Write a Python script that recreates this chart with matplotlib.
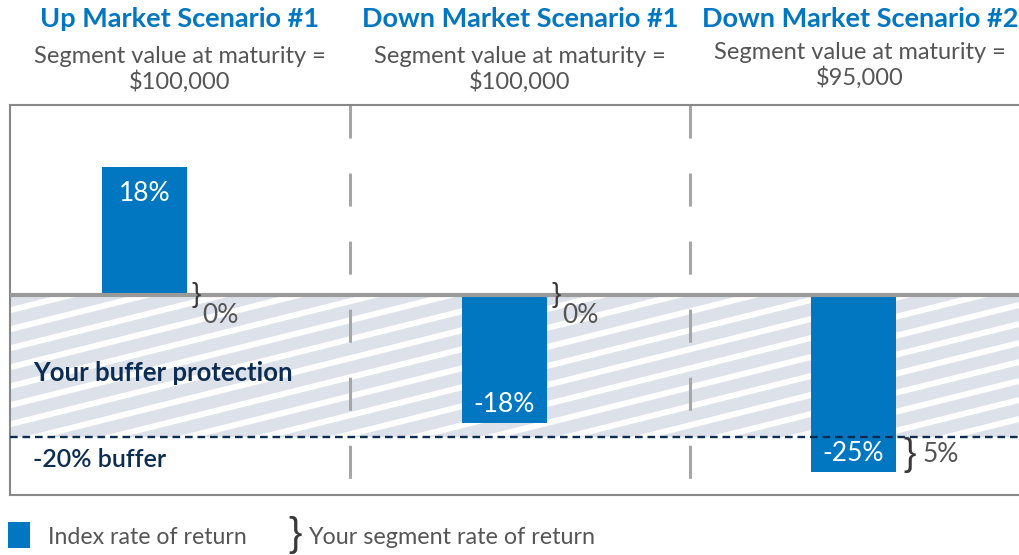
import matplotlib
matplotlib.use("Agg")
import matplotlib.pyplot as plt
import numpy as np
from matplotlib.patches import Rectangle
from matplotlib.transforms import blended_transform_factory

# ---- data -------------------------------------------------------------
scenarios = ["Up Market Scenario #1", "Down Market Scenario #1", "Down Market Scenario #2"]
maturity_values = ["100,000", "100,000", "95,000"]
index_returns = [18, -18, -25]
segment_returns = [0, 0, 5]
buffer_level = -20

# ---- style / layout ---------------------------------------------------
BLUE = "#0077c0"
NAVY = "#0c2d52"
GREY_TXT = "#555555"
HATCH_BG = "#dde1ea"
bar_x = [0.396, 1.454, 2.481]     # bar centres, in column units
bar_w = 0.25
plt.rcParams["font.family"] = ["Lato", "DejaVu Sans"]
plt.rcParams["lines.scale_dashes"] = False

W, H = 1019, 555
fig = plt.figure(figsize=(W / 100, H / 100), dpi=100)
ax = fig.add_axes([10 / W, 60 / H, 1 - 10 / W, 390 / H])
ax.set_xlim(0, 1009 / 340)
ax.set_ylim(-28.17, 26.76)
ax.set_xticks([])
ax.set_yticks([])
for s in ("top", "bottom", "left"):
    ax.spines[s].set_color("#888888")
    ax.spines[s].set_linewidth(1.5)
ax.spines["right"].set_visible(False)

# buffer zone with shallow white stripes
zone = Rectangle((0, buffer_level), 10, -buffer_level, facecolor=HATCH_BG,
                 edgecolor="none", zorder=1)
ax.add_patch(zone)
slope = 0.25 * 1009 / 390
for y0 in np.arange(-slope, 1.0, 19 / 390):
    ln, = ax.plot([0, 1], [y0, y0 + slope], transform=ax.transAxes,
                  color="white", lw=4.3, zorder=1.5, solid_capstyle="butt")
    ln.set_clip_path(zone)

# column dividers
for xd in (1, 2):
    ax.plot([xd, xd], [26.76, -28.17], color="#a6a6a6", lw=2.2,
            linestyle=(0, (23.8, 25.2)), zorder=2)

# index bars
ax.bar(bar_x, index_returns, bar_w, color=BLUE, zorder=3)

# zero line and buffer line
ax.axhline(0, color="#9a9a9a", lw=3, zorder=4)
ax.axhline(buffer_level, color=NAVY, lw=1.7, linestyle=(0, (5.5, 3.5)), zorder=4)

# bar labels
for x, v in zip(bar_x, index_returns):
    if v > 0:
        ax.annotate(f"{v}%", (x, v), xytext=(0, -19), textcoords="offset points",
                    ha="center", va="center", color="white", fontsize=19, zorder=5)
    else:
        ax.annotate(f"{v}%", (x, v), xytext=(0, 13.5), textcoords="offset points",
                    ha="center", va="center", color="white", fontsize=19, zorder=5)

# segment-return braces
for x, v, seg in zip(bar_x, index_returns, segment_returns):
    xr = x + bar_w / 2
    if seg == 0:
        ax.annotate("}", (xr, 0), xytext=(6.5, 0), textcoords="offset points",
                    ha="center", va="center", fontsize=20, color="#3a3a3a",
                    family="Liberation Sans", zorder=6)
        ax.annotate(f"{seg}%", (xr, 0), xytext=(24, -15), textcoords="offset points",
                    ha="center", va="center", fontsize=19, color=GREY_TXT, zorder=6)
    else:
        ymid = (v + buffer_level) / 2
        ax.annotate("}", (xr, ymid), xytext=(10, 0), textcoords="offset points",
                    ha="center", va="center", fontsize=27, color="#3a3a3a",
                    family="Liberation Sans", zorder=6)
        ax.annotate(f"{seg}%", (xr, ymid), xytext=(19, 0), textcoords="offset points",
                    ha="left", va="center", fontsize=19, color=GREY_TXT, zorder=6)

# zone labels
ax.text(23 / 340, -11, "Your buffer protection", color=NAVY, fontsize=18.5,
        fontweight="bold", va="center", zorder=6)
ax.text(23 / 340, buffer_level - 3.2, f"{buffer_level}% buffer", color=NAVY,
        fontsize=18, fontweight="semibold", va="center", zorder=6)

# column headers
tr = blended_transform_factory(ax.transData, fig.transFigure)
for i, (name, val) in enumerate(zip(scenarios, maturity_values)):
    cx = i + 0.5
    fig.text(cx, 1 - 19 / H, name, transform=tr, ha="center", va="center",
             color=BLUE, fontsize=19.5, fontweight="bold")
    yc = 69 if i < 2 else 65
    fig.text(cx, 1 - yc / H, "Segment value at maturity =\n\\$" + val, transform=tr,
             ha="center", va="center", color=GREY_TXT, fontsize=17, linespacing=1.17)

# legend
fig.patches.append(Rectangle((8 / W, 1 - 548 / H), 22 / W, 26 / H, facecolor=BLUE,
                             edgecolor="none", transform=fig.transFigure))
fig.text(48 / W, 1 - 537 / H, "Index rate of return", ha="left", va="center",
         color=GREY_TXT, fontsize=16.7)
fig.text(295 / W, 1 - 535 / H, "}", ha="center", va="center", color="#3a3a3a",
         fontsize=29, family="Liberation Sans")
fig.text(308 / W, 1 - 537 / H, "Your segment rate of return", ha="left", va="center",
         color=GREY_TXT, fontsize=16.8)

fig.savefig("out.png", dpi=100)
